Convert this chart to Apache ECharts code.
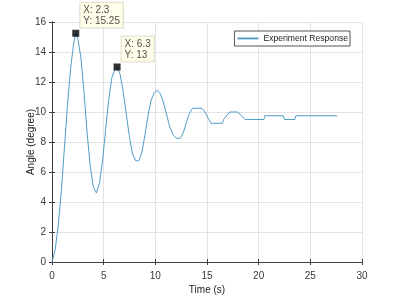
<!DOCTYPE html>
<html>
<head>
<meta charset="utf-8">
<script src="https://cdn.jsdelivr.net/npm/echarts@6/dist/echarts.min.js"></script>
<style>html,body{margin:0;padding:0;background:#fff;}#c{width:400px;height:300px;}</style>
</head>
<body>
<div id="c"></div>
<script>
var timeS = [0,0.3,0.6,0.9,1.2,1.5,1.8,2.1,2.3,2.5,2.8,3.1,3.4,3.7,4.0,4.3,4.6,4.9,5.2,5.5,5.8,6.1,6.3,6.6,6.9,7.2,7.5,7.8,8.1,8.4,8.7,9.0,9.3,9.6,9.9,10.2,10.5,10.8,11.1,11.4,11.7,12.0,12.4,12.7,13.0,13.3,13.6,14.5,14.8,15.1,15.4,16.5,16.6,16.9,17.2,18.0,18.3,18.7,20.5,20.6,22.4,22.5,23.5,23.6,27.6];
var angleDeg = [0,0.8,2.4,4.7,7.6,10.5,12.9,14.6,15.25,14.9,13.6,11.3,8.6,6.4,5.0,4.6,5.3,6.8,8.9,10.9,12.3,12.9,13.0,12.5,11.3,9.8,8.3,7.2,6.75,6.75,7.3,8.5,9.8,10.8,11.3,11.45,11.2,10.6,9.8,9.0,8.5,8.25,8.25,8.6,9.3,9.9,10.25,10.25,10.0,9.6,9.25,9.25,9.5,9.75,10.0,10.0,9.75,9.5,9.5,9.75,9.75,9.5,9.5,9.75,9.75];
var tipX = [2.3, 6.3];
var tipY = [15.25, 13];
var seriesName = 'Experiment Response';
var xTicks = [0,5,10,15,20,25,30];
var yTicks = [0,2,4,6,8,10,12,14,16];

var lineData = timeS.map(function(t,i){return [t, angleDeg[i]];});
var tipData = tipX.map(function(t,i){return [t, tipY[i]];});

var axCol = '#404040';
var gridCol = '#e3e3e3';
var lblCol = '#3a3a3a';
var font = 'Liberation Sans, Arial, sans-serif';

var chart = echarts.init(document.getElementById('c'), null, {renderer:'canvas'});
chart.setOption({
  animation: false,
  backgroundColor: '#ffffff',
  grid: {left: 52, right: 38, top: 22, bottom: 34, containLabel: false},
  legend: {
    show: true, right: 50, top: 31,
    data: [{name: seriesName, icon: 'path://M0,0 L1,0 L1,0.08 L0,0.08 Z'}],
    itemWidth: 21, itemHeight: 2, itemGap: 3,
    padding: [3, 2, 3, 3],
    borderColor: '#555', borderWidth: 1, backgroundColor: '#fff',
    textStyle: {fontSize: 8.6, color: '#222', fontFamily: font}
  },
  xAxis: [{
    type: 'value', min: 0, max: 30, interval: 5,
    name: 'Time (s)', nameLocation: 'middle', nameGap: 23, nameMoveOverlap: false,
    nameTextStyle: {fontSize: 10, color: '#222', fontFamily: font},
    axisLine: {show: true, lineStyle: {color: axCol, width: 1}},
    axisTick: {show: true, inside: true, length: 3, lineStyle: {color: axCol}},
    axisLabel: {fontSize: 10, color: lblCol, fontFamily: font, margin: 9},
    splitLine: {show: true, lineStyle: {color: gridCol, width: 1}}
  }, {
    type: 'value', min: 0, max: 30, interval: 5, position: 'top',
    axisLine: {show: true, lineStyle: {color: axCol, width: 1}},
    axisTick: {show: true, inside: true, length: 3, lineStyle: {color: axCol}},
    axisLabel: {show: false}, splitLine: {show: false}
  }],
  yAxis: [{
    type: 'value', min: 0, max: 16, interval: 2,
    name: 'Angle (degree)', nameLocation: 'middle', nameGap: 16, nameMoveOverlap: false,
    nameTextStyle: {fontSize: 10, color: '#222', fontFamily: font},
    axisLine: {show: true, lineStyle: {color: axCol, width: 1}},
    axisTick: {show: true, inside: true, length: 3, lineStyle: {color: axCol}},
    axisLabel: {fontSize: 10, color: lblCol, fontFamily: font, margin: 6},
    splitLine: {show: true, lineStyle: {color: gridCol, width: 1}}
  }, {
    type: 'value', min: 0, max: 16, interval: 2, position: 'right',
    axisLine: {show: true, lineStyle: {color: axCol, width: 1}},
    axisTick: {show: true, inside: true, length: 3, lineStyle: {color: axCol}},
    axisLabel: {show: false}, splitLine: {show: false}
  }],
  series: [{
    name: seriesName, type: 'line', data: lineData,
    showSymbol: false, symbol: 'none',
    lineStyle: {color: '#3f92bf', width: 0.9},
    itemStyle: {color: '#3f92bf'},
    z: 3
  }, {
    name: 'tips', type: 'scatter', data: tipData,
    symbol: 'rect', symbolSize: 7,
    itemStyle: {color: '#000'},
    z: 5,
    label: {
      show: true,
      position: [8, -27],
      align: 'left', verticalAlign: 'top',
      formatter: function(p){ return 'X: ' + p.value[0] + '\nY: ' + p.value[1]; },
      fontSize: 10, lineHeight: 11, color: '#222', fontFamily: font,
      backgroundColor: '#ffffe6', borderColor: '#d8d8c0', borderWidth: 1,
      padding: [2, 3, 1, 3]
    }
  }]
});
</script>
</body>
</html>
